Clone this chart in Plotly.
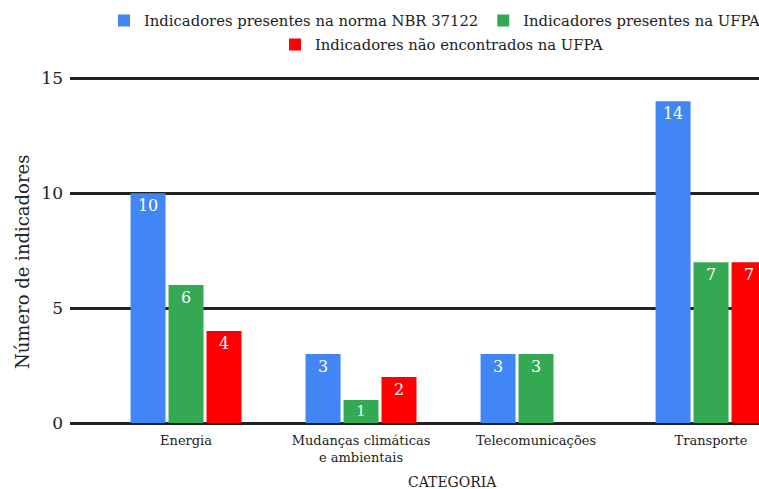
import plotly.graph_objects as go

categories = ["Energia", "Mudanças climáticas<br>e ambientais", "Telecomunicações", "Transporte"]
norma = [10, 3, 3, 14]
ufpa = [6, 1, 3, 7]
nao_encontrados = [4, 2, 0, 7]
y_ticks = [0, 5, 10, 15]

FONT = "DejaVu Serif"
W, H = 759, 489
ML, MR, MT, MB = 70, 0, 76, 66
PW, PH = W - ML - MR, H - MT - MB


def px_x(px):
    return (px - ML) / PW


def px_y(py):
    return (H - MB - py) / PH


fig = go.Figure()
series = [
    ("Indicadores presentes na norma NBR 37122", norma, "#4285F4", "legend"),
    ("Indicadores presentes na UFPA", ufpa, "#34A853", "legend"),
    ("Indicadores não encontrados na UFPA", nao_encontrados, "#FF0000", "legend2"),
]
for name, vals, color, lg in series:
    fig.add_trace(go.Bar(
        x=list(range(len(categories))), y=vals, name=name,
        marker=dict(color=color, line=dict(width=0)),
        text=[str(v) if v else "" for v in vals],
        textposition="inside", insidetextanchor="end",
        textfont=dict(family=FONT, size=16, color="white"),
        textangle=0,
        legend=lg,
    ))

fig.update_layout(
    width=W, height=H,
    margin=dict(l=ML, r=MR, t=MT, b=MB, autoexpand=False),
    plot_bgcolor="white", paper_bgcolor="white",
    font=dict(family=FONT, color="#222222"),
    barmode="group", bargap=0.349, bargroupgap=0.079,
    xaxis=dict(
        range=[-0.663, 3.274], tickmode="array",
        tickvals=list(range(len(categories))), ticktext=categories,
        tickfont=dict(family=FONT, size=13, color="#222222"),
        showgrid=False, zeroline=False, showline=False, ticks="",
        automargin=False, ticklabelstandoff=8,
    ),
    yaxis=dict(
        range=[0, 15.1], tickmode="array", tickvals=y_ticks,
        ticktext=[str(t) for t in y_ticks],
        tickfont=dict(family=FONT, size=17, color="#222222"),
        showgrid=True, gridcolor="#222222", gridwidth=3,
        zeroline=True, zerolinecolor="#222222", zerolinewidth=3,
        showline=False, ticks="", ticklabelstandoff=6,
        automargin=False,
    ),
    legend=dict(
        orientation="h", xref="container", yref="container",
        x=104 / W, xanchor="left", y=1 - 21 / H, yanchor="middle",
        font=dict(family=FONT, size=14.8, color="#222222"),
        bgcolor="rgba(0,0,0,0)",
    ),
    legend2=dict(
        orientation="h", xref="container", yref="container",
        x=442 / W, xanchor="center", y=1 - 45 / H, yanchor="middle",
        font=dict(family=FONT, size=14.8, color="#222222"),
        bgcolor="rgba(0,0,0,0)",
    ),
    annotations=[
        dict(text="CATEGORIA", xref="paper", yref="paper",
             x=px_x(452), y=px_y(482), showarrow=False,
             xanchor="center", yanchor="middle",
             font=dict(family=FONT, size=14, color="#222222")),
        dict(text="Número de indicadores", xref="paper", yref="paper",
             x=px_x(22), y=px_y(262), showarrow=False, textangle=-90,
             xanchor="center", yanchor="middle",
             font=dict(family=FONT, size=18, color="#222222")),
    ],
)

fig.write_html("out.html", config={"displayModeBar": False},
               post_script="document.body.style.margin='0';")
